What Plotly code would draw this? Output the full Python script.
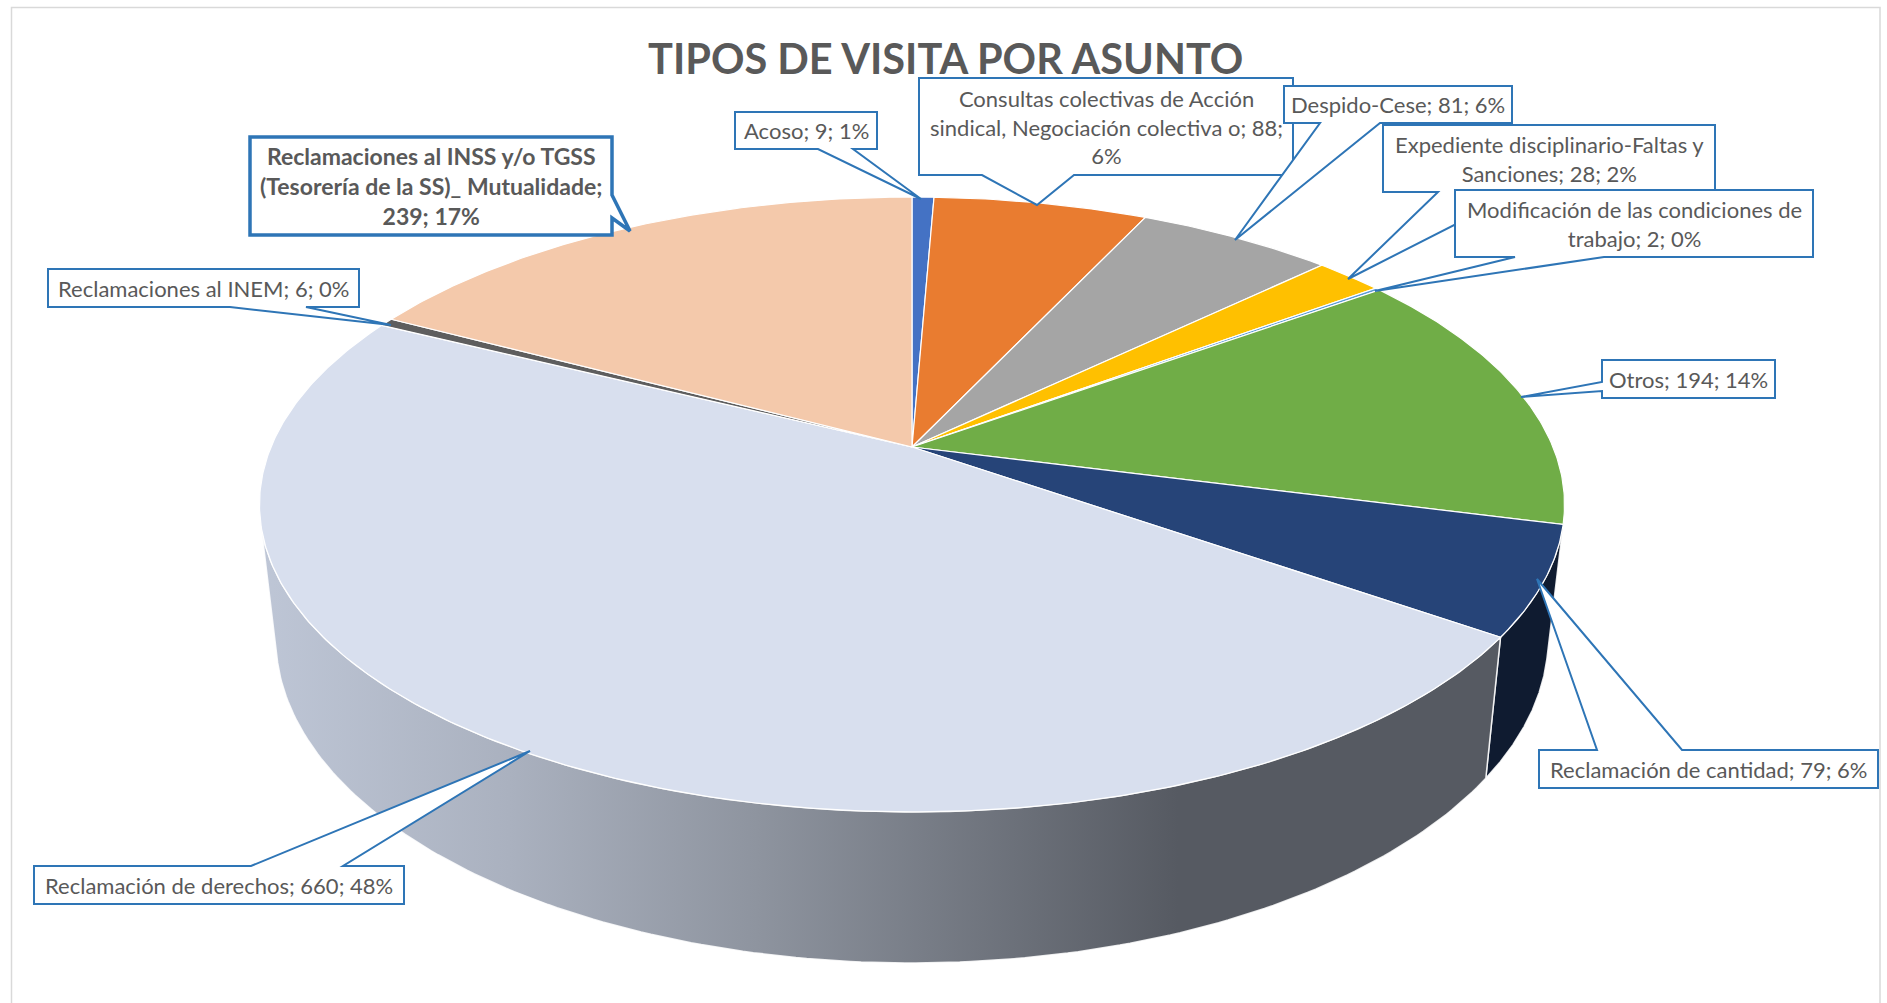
import numpy as np
import plotly.graph_objects as go

# ---- data ----
CATEGORIES = ["Acoso",
              "Consultas colectivas de Acción sindical, Negociación colectiva o",
              "Despido-Cese",
              "Expediente disciplinario-Faltas y Sanciones",
              "Modificación de las condiciones de trabajo",
              "Otros",
              "Reclamación de cantidad",
              "Reclamación de derechos",
              "Reclamaciones al INEM",
              "Reclamaciones al INSS y/o TGSS (Tesorería de la SS)_ Mutualidade"]
VALUES = [9, 88, 81, 28, 2, 194, 79, 660, 6, 239]
LABELS = ["Acoso; 9; 1%",
          "Consultas colectivas de Acción<br>sindical, Negociación colectiva o; 88;<br>6%",
          "Despido-Cese; 81; 6%",
          "Expediente disciplinario-Faltas y<br>Sanciones; 28; 2%",
          "Modificación de las condiciones de<br>trabajo; 2; 0%",
          "Otros; 194; 14%",
          "Reclamación de cantidad; 79; 6%",
          "Reclamación de derechos; 660; 48%",
          "Reclamaciones al INEM; 6; 0%",
          "<b>Reclamaciones al INSS y/o TGSS<br>(Tesorería de la SS)_ Mutualidade;<br>239; 17%</b>"]
TITLE = "TIPOS DE VISITA POR ASUNTO"

# ---- style ----
TOP_COLORS = ["#4472C4", "#E97C30", "#A5A5A5", "#FFC000", "#5B9BD5",
              "#70AD47", "#264478", "#D8DFEE", "#5E5E5E", "#F4C9AB"]
TEXT = "#595959"
BLUE = "#2E75B6"
FONT = "Lato"

# projection of the pie disc (pixels of the 1887x1003 canvas)
XC, YC, A_, B_, K = 912.0, 447.0, 296.7, 641.0, 0.187
S_X, Y_A, Y_B = 0.975, 1.057, 104.7
WALL_LEFT_Y = 528  # the wall stops at this height of the disc rim, on the far left


def top_pt(t):
    u, v = np.sin(t), np.cos(t)
    d = 1 + K * v
    return XC + B_ * u / d, YC - A_ * v / d


def bot_pt(t):
    x, y = top_pt(t)
    return XC + S_X * (x - XC), Y_A * y + Y_B


vals = np.array(VALUES, float)
edges = np.concatenate([[0], np.cumsum(vals)]) / vals.sum() * 2 * np.pi

fig = go.Figure()

# side walls (only the parts facing the viewer)
probe = np.linspace(np.pi, 2 * np.pi, 2000)
wall_end = probe[np.argmin(np.abs(top_pt(probe)[1] - WALL_LEFT_Y) + 1e3 * (np.sin(probe) > 0))]
wall_spans = [(edges[6], edges[7], {"fillcolor": "#0F1B30"}),
              (edges[7], min(edges[8], wall_end),
               {"fillgradient": dict(type="horizontal",
                                     colorscale=[[0, "#BEC6D6"], [0.2, "#AAB1BF"],
                                                 [0.4, "#8E949F"], [0.74, "#565A62"],
                                                 [1, "#565A62"]])})]
for t0, t1, style in wall_spans:
    t = np.linspace(t0, t1, 160)
    xt, yt = top_pt(t)
    xb, yb = bot_pt(t[::-1])
    fig.add_trace(go.Scatter(x=np.r_[xt, xb, xt[0]], y=np.r_[yt, yb, yt[0]], mode="lines",
                             fill="toself", line=dict(color="rgba(255,255,255,0.85)", width=1.5),
                             hoverinfo="skip", showlegend=False, **style))

# top face
for i, (cat, color) in enumerate(zip(CATEGORIES, TOP_COLORS)):
    n = max(4, int((edges[i + 1] - edges[i]) * 120))
    t = np.linspace(edges[i], edges[i + 1], n)
    xt, yt = top_pt(t)
    fig.add_trace(go.Scatter(x=np.r_[XC, xt, XC], y=np.r_[YC, yt, YC], mode="lines",
                             fill="toself", fillcolor=color,
                             line=dict(color="white", width=1.2),
                             name=cat, hoverinfo="name", showlegend=False))

# callouts: label index, box (x0, y0, x1, y1), side, base a, base b, tip, border width, font size
CALLOUTS = [
    (0, (735, 112, 877, 149), "b", 818, 853, (921, 199), 2, 22),
    (1, (919, 78, 1293, 175), "b", 982, 1074, (1037, 205), 2, 22),
    (2, (1284, 86, 1512, 123), "b", 1320, 1380, (1235, 240), 2, 22),
    (3, (1383, 125, 1715, 192), "b", 1438, 1519, (1348, 279), 2, 22),
    (4, (1455, 190, 1813, 257), "b", 1515, 1604, (1375, 291), 2, 22),
    (5, (1602, 360, 1775, 398), "l", 382, 391, (1521, 397), 2, 22),
    (6, (1539, 750, 1878, 788), "t", 1597, 1682, (1537, 579), 2, 22),
    (7, (34, 866, 404, 904), "t", 251, 343, (530, 751), 2, 22),
    (8, (48, 269, 359, 307), "b", 230, 306, (391, 325), 2, 22),
    (9, (250, 137, 612, 235), "r", 195, 218, (630, 231), 3.5, 23),
]


def callout_path(box, side, a, b, tip):
    x0, y0, x1, y1 = box
    tx, ty = tip
    pts = [(x0, y0)]
    if side == "t":
        pts += [(a, y0), (tx, ty), (b, y0)]
    pts += [(x1, y0)]
    if side == "r":
        pts += [(x1, a), (tx, ty), (x1, b)]
    pts += [(x1, y1)]
    if side == "b":
        pts += [(b, y1), (tx, ty), (a, y1)]
    pts += [(x0, y1)]
    if side == "l":
        pts += [(x0, b), (tx, ty), (x0, a)]
    return "M" + " L".join(f"{x},{y}" for x, y in pts) + " Z"


shapes = [dict(type="rect", xref="x", yref="y", x0=11.5, y0=7.5, x1=1880, y1=1020,
               line=dict(color="#D9D9D9", width=1.5), fillcolor="rgba(0,0,0,0)", layer="below")]
annotations = []
for idx, box, side, a, b, tip, lw, fs in CALLOUTS:
    shapes.append(dict(type="path", xref="x", yref="y", path=callout_path(box, side, a, b, tip),
                       fillcolor="white", line=dict(color=BLUE, width=lw), layer="above"))
    annotations.append(dict(x=(box[0] + box[2]) / 2, y=(box[1] + box[3]) / 2, xref="x", yref="y",
                            text=LABELS[idx], showarrow=False, align="center",
                            font=dict(family=FONT, size=fs, color=TEXT)))

annotations.append(dict(x=945, y=58, xref="x", yref="y", text=f"<b>{TITLE}</b>", showarrow=False,
                        font=dict(family=FONT, size=41.5, color=TEXT)))

fig.update_layout(width=1887, height=1003, margin=dict(l=0, r=0, t=0, b=0),
                  paper_bgcolor="white", plot_bgcolor="white", showlegend=False,
                  xaxis=dict(range=[0, 1887], visible=False, fixedrange=True),
                  yaxis=dict(range=[1003, 0], visible=False, fixedrange=True),
                  shapes=shapes, annotations=annotations)

fig.write_html("out.html", config={"displayModeBar": False},
               post_script="document.body.style.margin='0';document.body.style.overflow='hidden';")
